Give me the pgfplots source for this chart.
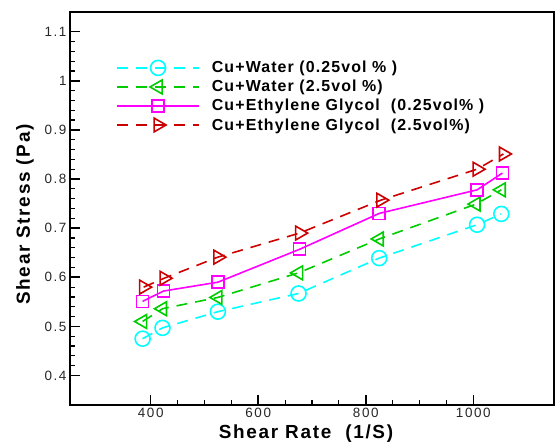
\documentclass[border=0pt]{standalone}
\usepackage{fontspec}
\setmainfont{Liberation Sans}
\usepackage{pgfplots}
\pgfplotsset{compat=1.18}
\definecolor{ccyan}{RGB}{0,255,255}
\definecolor{cgreen}{RGB}{0,204,0}
\definecolor{cmag}{RGB}{255,0,255}
\definecolor{cred}{RGB}{204,0,0}
\begin{document}
\begin{tikzpicture}
\begin{axis}[
  name=ax,
  scale only axis, width=484bp, height=393bp,
  xmin=250, xmax=1150, ymin=0.34, ymax=1.14,
  xtick={400,600,800,1000}, minor x tick num=3,
  ytick={0.4,0.5,0.6,0.7,0.8,0.9,1,1.1}, minor y tick num=4,
  tick pos=left, tick align=inside,
  axis line style={line width=2bp},
  major tick length=10bp, minor tick length=5bp,
  every tick/.style={black, line width=1.6bp},
  every minor tick/.style={black, line width=1.2bp},
  tick label style={font=\fontsize{13.5}{13.5}\selectfont\addfontfeature{LetterSpace=12}, text=black!85},
  /pgf/number format/assume math mode=true,
  /pgf/number format/1000 sep={},
  xlabel={Shear Rate\ \ (1/S)}, ylabel={Shear Stress (Pa)},
  label style={font=\bfseries\fontsize{19}{19}\selectfont\addfontfeature{LetterSpace=9}},
  xlabel style={xshift=-6bp},
  ylabel style={yshift=4bp, xshift=-6bp},
  legend style={draw=none, fill=none, at={(rel axis cs:0.089,0.885)}, anchor=north west,
    font=\bfseries\fontsize{16}{19}\selectfont\addfontfeature{LetterSpace=7}, row sep=2bp, column sep=10bp},
  legend cell align=left,
  legend image code/.code={\draw[mark repeat=2,mark phase=2,#1] plot coordinates {(0bp,0bp) (41bp,0bp) (82bp,0bp)};},
]
\addplot[ccyan, line width=1.6bp, dash pattern=on 11bp off 8bp, mark=o, mark size=7.5bp, mark options={solid, fill=none, line width=1.6bp}]
  coordinates {(385,0.475)(422,0.497)(525,0.53)(675,0.567)(825,0.639)(1007,0.707)(1052,0.729)};
\addlegendentry{Cu+Water (0.25vol \% )}
\addplot[cgreen, line width=1.6bp, dash pattern=on 11bp off 8bp, mark=triangle, mark size=8bp, mark options={solid, fill=none, line width=1.6bp, rotate=90}]
  coordinates {(385,0.51)(422,0.536)(525,0.559)(675,0.609)(825,0.678)(1005,0.749)(1052,0.778)};
\addlegendentry{Cu+Water (2.5vol \%)}
\addplot[cmag, line width=1.6bp, mark=square, mark size=6bp, mark options={solid, fill=none, line width=1.6bp}]
  coordinates {(385,0.551)(424,0.572)(525,0.59)(677,0.657)(825,0.73)(1007,0.778)(1054,0.812)};
\addlegendentry{Cu+Ethylene Glycol\ \ (0.25vol\% )}
\addplot[cred, line width=1.6bp, dash pattern=on 11bp off 8bp, mark=triangle, mark size=8bp, mark options={solid, fill=none, line width=1.6bp, rotate=-90}]
  coordinates {(387,0.58)(425,0.598)(525,0.641)(677,0.69)(828,0.757)(1007,0.82)(1056,0.851)};
\addlegendentry{Cu+Ethylene Glycol\ \ (2.5vol\%)}
\end{axis}
\pgfresetboundingbox
\path[use as bounding box] ([xshift=-70bp,yshift=-41bp]ax.south west) rectangle ([xshift=1bp,yshift=12bp]ax.north east);
\end{tikzpicture}
\end{document}
